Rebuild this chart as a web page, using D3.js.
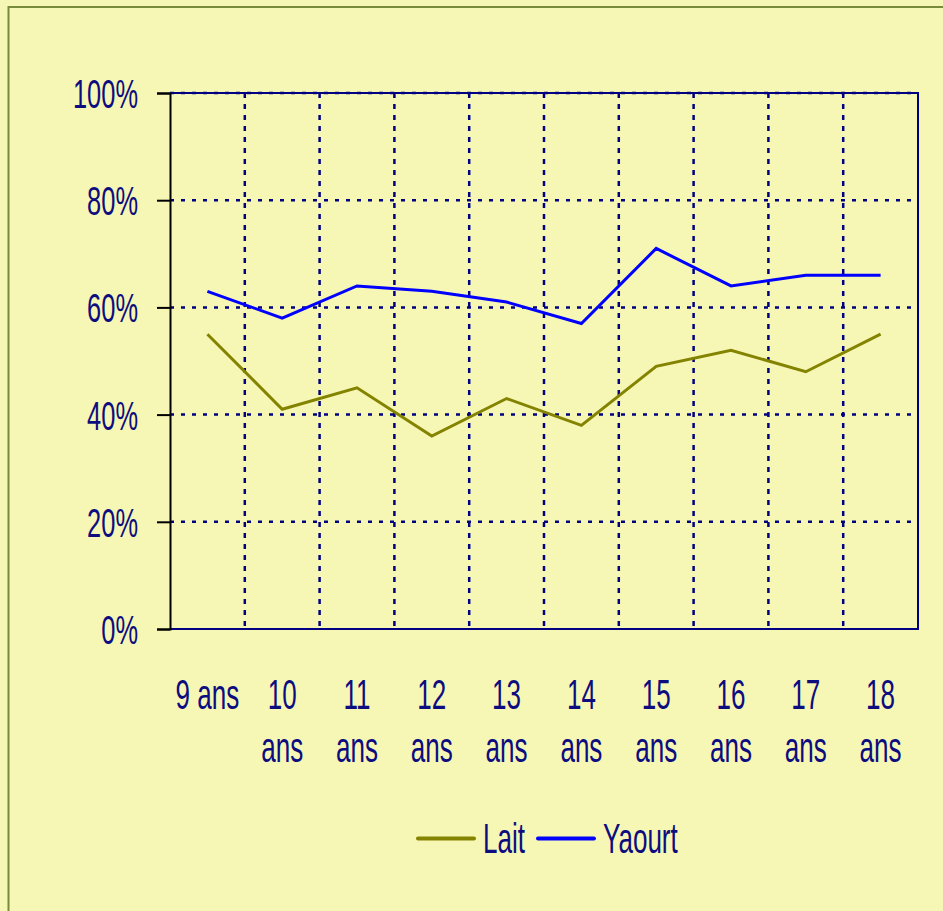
<!DOCTYPE html>
<html>
<head>
<meta charset="utf-8">
<script src="https://cdn.jsdelivr.net/npm/d3@7"></script>
<style>
  html, body { margin: 0; padding: 0; background: #f7f7b5; overflow: hidden; }
  text { font-family: "Liberation Sans", Arial, sans-serif; fill: #0d0d80; }
</style>
</head>
<body>
<div id="chart"></div>
<script>
const categories = [["9 ans"], ["10", "ans"], ["11", "ans"], ["12", "ans"], ["13", "ans"],
    ["14", "ans"], ["15", "ans"], ["16", "ans"], ["17", "ans"], ["18", "ans"]]
const lait = [55, 41, 45, 36, 43, 38, 49, 52, 48, 55]
const yaourt = [63, 58, 64, 63, 61, 57, 71, 64, 66, 66]
const yTicks = [0, 20, 40, 60, 80, 100]

const width = 943
const height = 911
const plotLeft = 170, plotRight = 918, plotTop = 93, plotBottom = 629
const navy = "#000080"
const sx = 0.62

const svg = d3.select("#chart").append("svg")
    .attr("width", width)
    .attr("height", height)

svg.append("rect")
    .attr("x", 8.5).attr("y", 7)
    .attr("width", width + 10).attr("height", height + 10)
    .attr("fill", "#f7f7b5")
    .attr("stroke", "#788a3c")
    .attr("stroke-width", 2)

const keys = categories.map(c => c.join(" "))

const x = d3.scaleBand()
    .domain(keys)
    .range([plotLeft, plotRight])
    .padding(0)

const y = d3.scaleLinear()
    .domain([0, 100])
    .range([plotBottom, plotTop])

const cx = i => x(keys[i]) + x.bandwidth() / 2

// grid
const grid = svg.append("g")
    .attr("stroke", navy)
    .attr("stroke-width", 2.5)

grid.selectAll(".h")
    .data(yTicks.filter(t => t > 0))
    .enter().append("line")
    .attr("stroke-dasharray", "4,7")
    .attr("x1", plotLeft).attr("x2", plotRight)
    .attr("y1", d => y(d)).attr("y2", d => y(d))

grid.selectAll(".v")
    .data(keys.slice(1))
    .enter().append("line")
    .attr("stroke-dasharray", "5,6")
    .attr("x1", d => x(d)).attr("x2", d => x(d))
    .attr("y1", plotTop).attr("y2", plotBottom)

// frame
svg.append("path")
    .attr("d", `M${plotLeft},${plotTop}H${plotRight}V${plotBottom}H${plotLeft}`)
    .attr("fill", "none")
    .attr("stroke", navy)
    .attr("stroke-width", 2)

// y axis
const yAxis = svg.append("g")
    .attr("transform", `translate(${plotLeft},0)`)
    .call(d3.axisLeft(y).tickValues(yTicks).tickSize(13).tickFormat(""))
yAxis.select(".domain").attr("stroke", "#000").attr("stroke-width", 2)
yAxis.selectAll(".tick line").attr("stroke", "#000").attr("stroke-width", 2)

svg.selectAll(".ylab")
    .data(yTicks)
    .enter().append("text")
    .attr("transform", d => `translate(138,${y(d) + 15}) scale(${sx},1)`)
    .attr("text-anchor", "end")
    .attr("font-size", 41)
    .text(d => d + "%")

// x labels
categories.forEach((lines, i) => {
    svg.selectAll(null)
        .data(lines)
        .enter().append("text")
        .attr("transform", (d, j) => `translate(${cx(i)},${709 + j * 53}) scale(${sx},1)`)
        .attr("text-anchor", "middle")
        .attr("font-size", 42)
        .text(d => d)
})

// lines
const line = d3.line()
    .x((d, i) => cx(i))
    .y(d => y(d))

const series = [
    {name: "Lait", values: lait, color: "#838300"},
    {name: "Yaourt", values: yaourt, color: "#0000ff"}
]

svg.selectAll(".series")
    .data(series)
    .enter().append("path")
    .attr("d", d => line(d.values))
    .attr("fill", "none")
    .attr("stroke", d => d.color)
    .attr("stroke-width", 3)

// legend
const legendPos = [418, 538]
series.forEach((s, i) => {
    const lx = legendPos[i]
    svg.append("line")
        .attr("x1", lx).attr("x2", lx + 56)
        .attr("y1", 838.5).attr("y2", 838.5)
        .attr("stroke", s.color)
        .attr("stroke-width", 4)
        .attr("stroke-linecap", "round")
    svg.append("text")
        .attr("transform", `translate(${lx + 65},853) scale(${sx},1)`)
        .attr("font-size", 42)
        .text(s.name)
})
</script>
</body>
</html>
